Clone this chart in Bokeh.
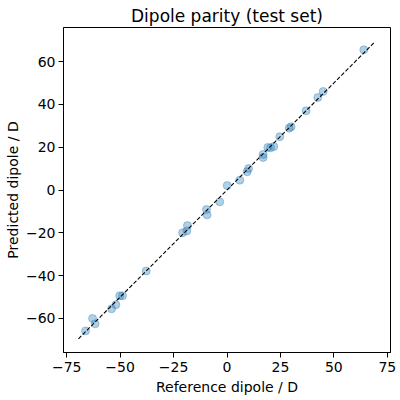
from bokeh.plotting import figure
from bokeh.models import Range1d, FixedTicker
from bokeh.embed import file_html
from bokeh.resources import INLINE

ref_dipole = [64.0, 45.0, 42.5, 37.0, 29.1, 30.0, 24.7, 21.9, 19.1, 20.4, 16.9, 16.9,
              10.1, 9.4, 6.0, 0.1, -3.4, -9.6, -9.3, -18.5, -18.8, -20.8, -37.8,
              -48.9, -50.2, -52.0, -54.0, -62.9, -61.7, -66.2]
pred_dipole = [65.5, 46.0, 43.2, 37.0, 28.9, 29.6, 24.9, 20.3, 19.9, 19.7, 16.6, 15.2,
               10.0, 8.5, 4.6, 2.1, -5.5, -9.1, -11.6, -16.6, -19.1, -20.0, -37.8,
               -49.4, -49.4, -53.6, -55.5, -60.0, -62.5, -65.8]
identity_line = [-69.5, 69.0]
x_ticks = [-75, -50, -25, 0, 25, 50, 75]
y_ticks = [-60, -40, -20, 0, 20, 40, 60]

FONT = "DejaVu Sans"

p = figure(width=400, height=400, output_backend="svg", toolbar_location=None,
           title="Dipole parity (test set)",
           x_range=Range1d(-76.5, 76.5), y_range=Range1d(-75.9, 75.9),
           min_border_left=63, min_border_right=10, min_border_top=27, min_border_bottom=48)

p.title.align = "center"
p.title.text_font = FONT
p.title.text_font_size = "17px"
p.title.text_font_style = "normal"
p.title.text_color = "black"
p.title.offset = 0
p.title.standoff = 4

p.scatter(ref_dipole, pred_dipole, size=8, fill_color="#1f77b4", fill_alpha=0.35,
          line_color="#1f77b4", line_alpha=0.35)
p.line(identity_line, identity_line, line_color="black", line_width=1.1, line_dash="4 2")

p.grid.visible = False
p.outline_line_color = "black"
p.outline_line_width = 1

def minus(v):
    return str(v).replace("-", "\u2212")

for ax, ticks, label in ((p.xaxis[0], x_ticks, "Reference dipole / D"),
                         (p.yaxis[0], y_ticks, "Predicted dipole / D")):
    ax.ticker = FixedTicker(ticks=ticks)
    ax.major_label_overrides = {t: minus(t) for t in ticks}
    ax.axis_label = label
    ax.axis_label_text_font = FONT
    ax.axis_label_text_font_size = "14px"
    ax.axis_label_text_font_style = "normal"
    ax.axis_label_text_color = "black"
    ax.major_label_text_font = FONT
    ax.major_label_text_font_size = "14px"
    ax.major_label_text_color = "black"
    ax.major_label_standoff = 4
    ax.minor_tick_line_color = None
    ax.major_tick_in = 0
    ax.major_tick_out = 5
    ax.major_tick_line_color = "black"
    ax.axis_line_color = "black"
    ax.axis_label_standoff = 4

p.yaxis[0].major_label_standoff = 3
p.yaxis[0].axis_label_standoff = 2

open("out.html", "w").write(file_html(p, INLINE))
